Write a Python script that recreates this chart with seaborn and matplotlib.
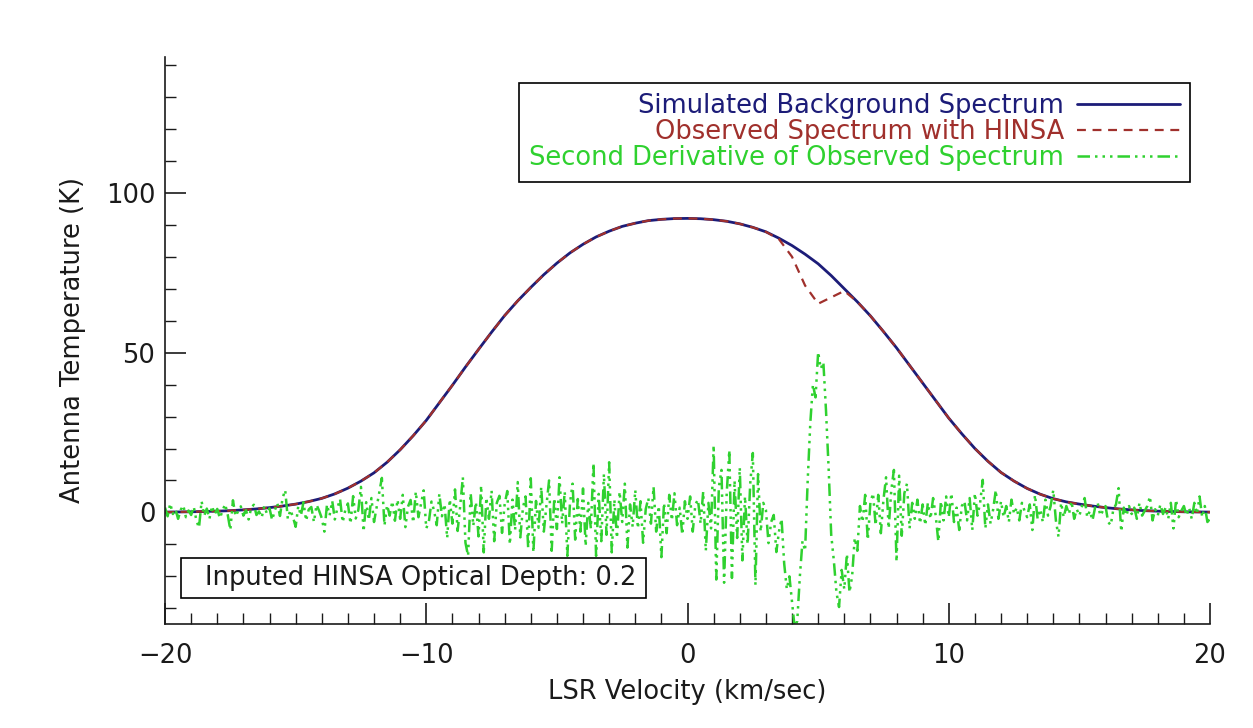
import numpy as np
import matplotlib
matplotlib.use("Agg")
import matplotlib.pyplot as plt
import seaborn as sns
from matplotlib.ticker import MultipleLocator
from matplotlib.patches import Rectangle

# ---------------- data ----------------
velocity_bg = np.linspace(-20, 20, 81)          # km/s, 0.5 km/s sampling

background = [
    0.1, 0.15, 0.2, 0.3, 0.4, 0.55, 0.8, 1.1, 1.5, 2.0,
    2.6, 3.4, 4.4, 5.8, 7.6, 9.8, 12.4, 15.7, 19.6, 24.0,
    28.8, 34.3, 39.8, 45.5, 51.0, 56.4, 61.6, 66.2, 70.4, 74.4,
    78.0, 81.2, 83.9, 86.2, 88.0, 89.5, 90.5, 91.3, 91.7, 91.95,
    92.0,
    91.9, 91.6, 91.1, 90.3, 89.2, 87.8, 85.8, 83.5, 80.8, 77.8,
    74.1, 70.0, 65.9, 61.5, 56.6, 51.5, 46.0, 40.5, 35.0, 29.5,
    24.6, 20.0, 16.0, 12.5, 9.8, 7.5, 5.7, 4.3, 3.3, 2.6,
    2.0, 1.5, 1.1, 0.8, 0.55, 0.4, 0.3, 0.2, 0.15, 0.1,
]

observed = [
    0.1, 0.15, 0.2, 0.3, 0.4, 0.55, 0.8, 1.1, 1.5, 2.0,
    2.6, 3.4, 4.4, 5.8, 7.6, 9.8, 12.4, 15.7, 19.6, 24.0,
    28.8, 34.3, 39.8, 45.5, 51.0, 56.4, 61.6, 66.2, 70.4, 74.4,
    78.0, 81.2, 83.9, 86.2, 88.0, 89.5, 90.5, 91.3, 91.7, 91.95,
    92.0,
    91.9, 91.6, 91.1, 90.3, 89.2, 87.8, 85.5, 80.0, 71.0, 65.3,
    67.3, 69.3, 65.9, 61.5, 56.6, 51.5, 46.0, 40.5, 35.0, 29.5,
    24.6, 20.0, 16.0, 12.5, 9.8, 7.5, 5.7, 4.3, 3.3, 2.6,
    2.0, 1.5, 1.1, 0.8, 0.55, 0.4, 0.3, 0.2, 0.15, 0.1,
]

velocity_d2 = np.linspace(-20, 20, 401)         # km/s, 0.1 km/s sampling

second_derivative = [
    # -20 .. -19.1
    1.5, -1.2, 2.8, -0.5, 1.0, -2.0, 0.8, 2.2, -1.5, 0.6,
    # -19
    -0.8, 1.8, -2.5, -4.8, 3.5, -1.0, 1.2, -2.0, 2.0, -0.6,
    # -18
    1.1, -1.8, 0.5, 2.6, -0.7, -5.5, 3.8, -1.2, 0.4, 1.9,
    # -17
    -1.0, 0.7, -2.2, 1.5, 2.4, -0.8, 0.3, -1.6, 2.0, -0.4,
    # -16
    1.3, -2.4, 0.6, 2.9, -1.1, 4.5, 7.0, -2.0, 0.8, -1.5,
    # -15
    -4.5, 2.0, -1.0, 3.2, -2.6, 0.9, 1.7, -3.0, 2.4, 0.5,
    # -14
    -1.8, -6.0, 2.5, -0.9, 3.6, -2.2, 1.4, 4.2, -3.1, 0.7,
    # -13
    2.8, -3.5, 5.1, -1.9, 0.8, 8.0, -6.0, 3.2, -2.4, 4.5,
    # -12
    -3.0, 1.6, 6.2, 10.8, -4.1, 2.3, -1.0, 3.5, -2.6, 4.0,
    # -11
    -2.0, 5.5, -4.6, 1.8, 3.9, -3.2, 6.5, -1.5, 2.7, 6.9,
    # -10
    -5.0, -2.8, 3.4, 0.5, -4.0, 5.8, -1.2, 2.6, -8.0, 4.1,
    # -9
    -3.5, 7.2, -5.8, 2.1, 11.0, -9.5, -13.6, 6.0, -4.2, 3.3,
    # -8
    -7.5, 8.4, -12.5, 4.6, -2.0, 6.8, -9.0, 3.0, 5.2, -6.4,
    # -7
    2.5, 6.7, -10.0, 4.0, -5.5, 9.5, -7.8, 1.5, 5.0, -11.0,
    # -6
    10.7, -12.5, 3.6, -4.8, 8.0, -6.0, 2.2, 10.0, -12.0, 4.5,
    # -5
    -5.2, 11.0, -3.5, 6.5, -13.6, 2.8, 9.0, -8.5, 4.2, -6.0,
    # -4
    7.5, -10.5, 3.0, -5.0, 15.5, -13.6, 5.8, -9.0, 12.0, -7.0,
    # -3
    15.7, -12.5, 4.0, -8.0, 6.5, -3.0, 9.0, -11.0, 2.5, -4.5,
    # -2
    7.0, -5.0, 3.5, -9.5, 1.0, 4.5, -3.5, 8.0, -6.0, 2.0,
    # -1
    -14.0, 3.0, -6.5, 5.5, -2.5, 6.0, -4.0, 1.5, -7.0, 3.5,
    # 0
    -2.0, 5.0, -6.0, 2.5, 4.0, -3.5, 6.5, -12.0, 3.0, -5.0,
    # 1
    21.0, -21.0, 8.0, 13.3, -22.0, 6.0, 19.5, -20.5, 10.0, -8.0,
    # 2
    14.0, -15.0, 5.0, -10.0, 9.0, 18.6, -22.7, 12.0, -6.0, 3.0,
    # 3
    0.8, -9.6, -3.0, -0.8, -12.4, -6.0, -2.0, -16.0, -24.0, -20.0,
    # 4
    -28.0, -36.0, -34.0, -20.0, -9.0, -12.0, 10.0, 28.0, 40.0, 36.0,
    # 5
    50.2, 45.0, 47.0, 32.0, 14.0, -7.0, -15.0, -25.0, -29.6, -18.0,
    # 6
    -24.0, -13.0, -25.0, -20.0, -8.0, -12.0, 2.0, -3.0, 5.5, -8.6,
    # 7
    3.0, 6.0, -4.0, 5.5, -6.5, 4.0, 11.0, -5.0, 7.0, 13.3,
    # 8
    -15.4, 11.5, -7.3, 6.0, 9.0, -5.0, 3.0, -2.0, 4.0, -3.5,
    # 9
    2.5, -4.0, 3.0, -2.0, 4.5, -1.0, -9.1, 3.5, -2.5, 5.0,
    # 10
    -1.5, 6.0, -3.0, 1.5, -5.5, 2.0, 3.5, -2.5, 4.5, -5.5,
    # 11
    6.0, -1.0, 3.0, 10.2, -5.0, 2.5, -3.5, 1.0, 7.0, -2.0,
    # 12
    3.5, -1.5, 2.0, -3.0, 4.0, -0.5, 1.5, -2.5, 3.0, 0.5,
    # 13
    -1.5, 2.5, -5.5, 5.5, -2.0, 1.0, -3.0, 4.0, -1.0, 2.0,
    # 14
    7.0, -2.5, -7.6, 3.0, -1.5, 2.0, -0.5, 3.5, -2.0, 1.0,
    # 15
    -1.0, 2.0, 4.5, -1.5, 0.5, -2.5, 1.5, 3.0, -1.0, 0.5,
    # 16
    2.0, -3.0, -4.0, 1.0, 2.5, 7.6, -6.0, 1.5, -1.0, 2.0,
    # 17
    -0.5, 1.5, -2.0, 3.0, -1.0, 0.5, 2.0, 5.0, -2.5, 1.0,
    # 18
    -1.0, 2.5, -0.5, 1.5, -2.0, 3.0, -5.0, 4.0, -1.5, 0.5,
    # 19
    2.0, -1.0, 1.5, -2.0, 3.0, -0.5, 5.0, -1.5, 2.0, -3.0,
    # 20
    -2.0,
]

series_labels = [
    "Simulated Background Spectrum",
    "Observed Spectrum with HINSA",
    "Second Derivative of Observed Spectrum",
]
annotation_text = "Inputed HINSA Optical Depth: 0.2"
x_label = "LSR Velocity (km/sec)"
y_label = "Antenna Temperature (K)"

NAVY = "#1c1c78"
DARKRED = "#a0302c"
GREEN = "#2fd12f"
TEXT = "#1a1a1a"
FS = 18.5

# ---------------- figure ----------------
sns.set_theme(style="ticks")
plt.rcParams["font.family"] = ["DejaVu Sans"]
plt.rcParams["axes.edgecolor"] = TEXT

fig = plt.figure(figsize=(12.53, 7.28), dpi=100)
fig.patch.set_facecolor("white")
ax = fig.add_axes([0.1317, 0.1429, 0.834, 0.7788])
ax.set_facecolor("white")

sns.lineplot(x=velocity_bg, y=background, ax=ax, color=NAVY, linewidth=2.0,
             sort=False, estimator=None, legend=False)
sns.lineplot(x=velocity_bg, y=observed, ax=ax, color=DARKRED, linewidth=1.6,
             linestyle=(0, (4, 3)), sort=False, estimator=None, legend=False)
sns.lineplot(x=velocity_d2, y=second_derivative, ax=ax, color=GREEN, linewidth=1.8,
             linestyle=(0, (5, 2, 1, 2, 1, 2, 1, 2)), sort=False, estimator=None,
             legend=False)

ax.set_xlim(-20, 20)
ax.set_ylim(-34.9, 142.5)

ax.xaxis.set_major_locator(MultipleLocator(10))
ax.xaxis.set_minor_locator(MultipleLocator(1))
ax.yaxis.set_major_locator(MultipleLocator(50))
ax.yaxis.set_minor_locator(MultipleLocator(10))

ax.tick_params(axis="both", which="both", direction="in", color=TEXT,
               labelcolor=TEXT, labelsize=FS)
ax.tick_params(axis="both", which="major", length=15, width=1.2)
ax.tick_params(axis="both", which="minor", length=8, width=1.0)
ax.tick_params(axis="x", which="major", pad=14)
ax.tick_params(axis="y", which="major", pad=7)

for side in ("top", "right"):
    ax.spines[side].set_visible(False)
for side in ("left", "bottom"):
    ax.spines[side].set_linewidth(1.2)

ax.set_xlabel(x_label, fontsize=FS, color=TEXT, labelpad=7)
ax.set_ylabel(y_label, fontsize=FS, color=TEXT, labelpad=14)

lines = ax.get_lines()[:3]
leg = ax.legend(lines, series_labels, loc="upper right",
                bbox_to_anchor=(0.981, 0.954), borderaxespad=0,
                markerfirst=False, frameon=True, fancybox=False,
                edgecolor="black", framealpha=1, fontsize=FS,
                handlelength=4.0, handletextpad=0.5, labelspacing=0.0,
                borderpad=0.4, labelcolor=[NAVY, DARKRED, GREEN])
leg.get_frame().set_linewidth(1.2)

ax.add_patch(Rectangle((0.0153, 0.0459), 0.445, 0.0705, transform=ax.transAxes,
                       facecolor="white", edgecolor="black", linewidth=1.2,
                       zorder=5))
ax.text(0.0383, 0.081, annotation_text, transform=ax.transAxes, fontsize=FS,
        color=TEXT, ha="left", va="center", zorder=6)

fig.savefig("out.png", dpi=100, facecolor="white")
